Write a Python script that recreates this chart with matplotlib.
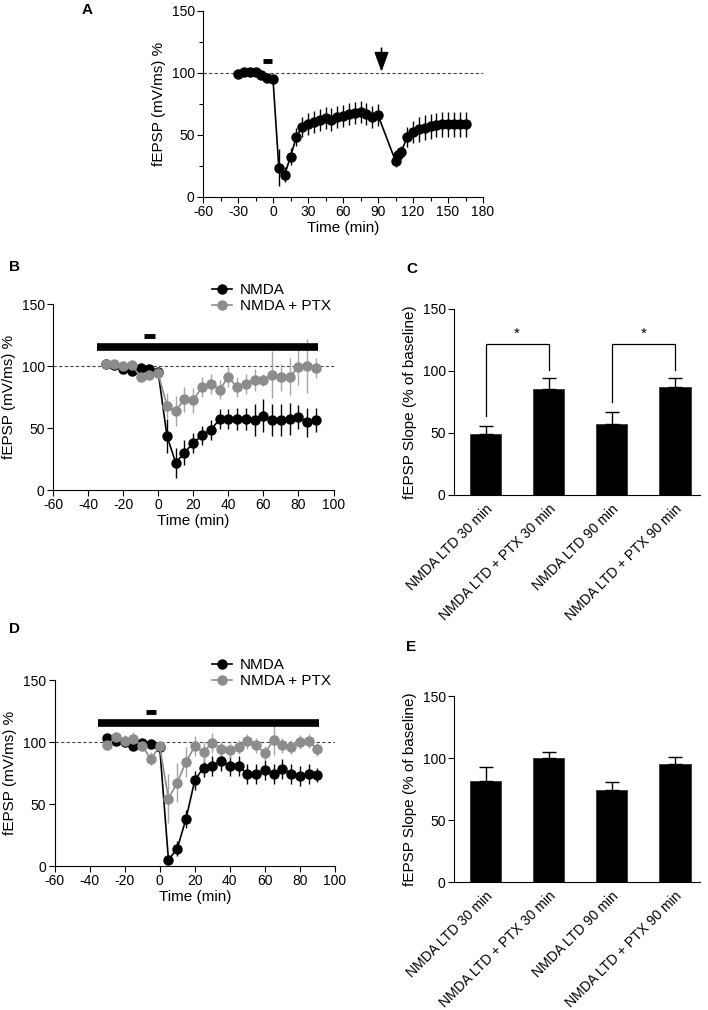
import matplotlib.pyplot as plt
from matplotlib.lines import Line2D
from matplotlib.ticker import MultipleLocator

plt.rcParams['font.family'] = ['Liberation Sans', 'DejaVu Sans']
plt.rcParams['font.size'] = 10
plt.rcParams['axes.unicode_minus'] = False

# ---- panel A data ----
a_time = [-30, -25, -20, -15, -10, -5, 0, 5, 10, 15, 20, 25, 30, 35, 40, 45, 50, 55, 60,
          65, 70, 75, 80, 85, 90, 105, 107.5, 110, 115, 120, 125, 130, 135, 140, 145,
          150, 155, 160, 165]
a_mean = [99.5, 101, 100.5, 100.5, 98, 96, 95, 23.5, 18, 32.5, 48.5, 56.5, 59, 60.5, 62,
          63.5, 62.5, 64.5, 65.5, 67, 67.5, 68.5, 67, 64.5, 66, 29, 34, 36.5, 48.5, 52.5,
          54.5, 56, 57, 58, 58.5, 58.5, 58.5, 58.5, 58.5]
a_sem = [1, 1, 1, 1, 1, 1, 1, 15, 6, 7, 7, 8, 9, 9, 9, 9, 9, 9, 9, 9, 9, 9, 9, 9, 9,
         5, 4, 5, 8, 9, 10, 10, 10, 10, 10, 10, 10, 10, 10]
a_nmda_period = [-9, -1]
a_arrow_time = 93

# ---- panels B and D data ----
t = [-30, -25, -20, -15, -10, -5, 0, 5, 10, 15, 20, 25, 30, 35, 40, 45, 50, 55, 60,
     65, 70, 75, 80, 85, 90]
b_nmda = [101.6, 101, 97.3, 96.3, 98.4, 97.8, 95, 43.5, 22, 30, 38, 44, 48.5, 57, 57,
          57, 57, 56.5, 60, 56.5, 56.5, 57, 59, 54.5, 56.5]
b_nmda_sem = [2, 2, 2, 2, 2, 2, 2, 14, 12, 10, 8, 8, 8, 8, 8, 9, 9, 13, 13, 13, 13, 13,
              9.5, 12, 10]
b_ptx = [102, 102, 100, 101, 91, 92.5, 94, 68, 64, 73, 72.5, 83, 85.5, 81, 91, 83, 85.5,
         88.5, 88.5, 93, 91, 91.5, 99, 100, 98.5]
b_ptx_sem = [2, 2, 2, 2, 3, 3, 3, 10, 12, 10, 10, 8, 8, 8, 8, 8, 8, 9, 5, 19, 11, 15,
             14, 22, 8]

d_nmda = [103.5, 101, 100, 97, 99, 98, 96, 5, 14, 38, 69, 79.4, 80.6, 84.7, 80.6, 80.6,
          74, 74, 77.2, 74, 78.5, 74, 72.6, 74, 73.4]
d_nmda_sem = [2, 2, 2, 2, 2, 2, 2, 3, 6, 7, 8, 8, 8, 8, 8, 8, 8, 8, 8, 8, 8, 8, 8, 8, 6]
d_ptx = [97.3, 104, 100.8, 102.7, 96.5, 86.6, 96.5, 54.4, 67.3, 83.9, 96.5, 91.9, 99.5,
         94.1, 93.3, 96, 100.6, 97.3, 91.1, 101.9, 97.3, 96, 100, 100.8, 94.1]
d_ptx_sem = [3, 3, 5, 5, 4, 5, 3, 20, 16, 12, 8, 8, 8, 6, 6, 6, 6, 6, 6, 12, 6, 6, 6, 6, 5]

ptx_period = [-35, 91]
nmda_period = [-8, -2]

# ---- panels C and E data ----
bar_labels = ["NMDA LTD 30 min", "NMDA LTD + PTX 30 min",
              "NMDA LTD 90 min", "NMDA LTD + PTX 90 min"]
c_mean = [49, 85.7, 57, 87]
c_sem = [7, 8.7, 9.7, 7.5]
e_mean = [81.6, 100.3, 74.3, 95.2]
e_sem = [11.2, 4.6, 6.2, 5.5]

W, H = 708, 1010
fig = plt.figure(figsize=(W / 100, H / 100), dpi=100)
GREY = '#8c8c8c'


def add_ax(l, t_, r, b):
    return fig.add_axes([l / W, 1 - b / H, (r - l) / W, (b - t_) / H])


def style(ax):
    for s in ['top', 'right']:
        ax.spines[s].set_visible(False)
    for s in ['left', 'bottom']:
        ax.spines[s].set_linewidth(0.8)
    ax.tick_params(direction='out', length=4, width=0.8, labelsize=10, pad=2)
    ax.tick_params(which='minor', direction='out', length=3, width=0.8)


def time_course(ax, series):
    for m, s, c, ec in series:
        ax.errorbar(t, m, yerr=s, fmt='-o', color=c, ecolor=ec, ms=6.5, lw=1.2,
                    elinewidth=1.0, capsize=0)
    ax.axhline(100, ls=(0, (3, 2)), lw=0.8, color='#444444', zorder=0)
    ax.plot(ptx_period, [115, 115], color='k', lw=5.5, solid_capstyle='butt')
    ax.plot(nmda_period, [124.5, 124.5], color='k', lw=3.5, solid_capstyle='butt')
    ax.set_xlim(-60, 100)
    ax.set_ylim(0, 150)
    ax.set_xticks(range(-60, 101, 20))
    ax.set_yticks([0, 50, 100, 150])
    ax.set_xlabel('Time (min)', fontsize=11, labelpad=1)
    ax.set_ylabel('fEPSP (mV/ms) %', fontsize=11)
    style(ax)
    handles = [Line2D([], [], color='k', marker='o', ms=6.5, lw=1.2),
               Line2D([], [], color=GREY, marker='o', ms=6.5, lw=1.2)]
    return handles


def bars(ax, mean, sem):
    x = range(len(mean))
    ax.bar(x, mean, width=0.5, color='k', edgecolor='#333333', lw=0.6)
    ax.errorbar(x, mean, yerr=[[0] * len(sem), sem], fmt='none', ecolor='k',
                elinewidth=1.0, capsize=5, capthick=1.0)
    ax.set_xlim(-0.5, 3.4)
    ax.set_ylim(0, 150)
    ax.set_yticks([0, 50, 100, 150])
    ax.set_xticks(list(x))
    ax.set_xticklabels(bar_labels, rotation=45, ha='right', va='top',
                       rotation_mode='anchor', fontsize=10.5)
    ax.set_ylabel('fEPSP Slope (% of baseline)', fontsize=11)
    style(ax)
    ax.tick_params(axis='x', length=0, pad=5)


# ---- A ----
axA = add_ax(203, 11, 483, 197)
axA.errorbar(a_time, a_mean, yerr=a_sem, fmt='-o', color='k', ms=6.5, lw=1.2,
             elinewidth=1.0, capsize=0)
axA.axhline(100, ls=(0, (3, 2)), lw=0.8, color='#444444', zorder=0)
axA.plot(a_nmda_period, [110, 110], color='k', lw=3.5, solid_capstyle='butt')
axA.annotate('', xy=(a_arrow_time, 101), xytext=(a_arrow_time, 120),
             arrowprops=dict(arrowstyle='-|>,head_length=0.6,head_width=0.22',
                             color='k', lw=1.2, mutation_scale=20, shrinkA=0, shrinkB=0))
axA.set_xlim(-60, 180)
axA.set_ylim(0, 150)
axA.set_xticks(range(-60, 181, 30))
axA.xaxis.set_minor_locator(MultipleLocator(15))
axA.set_yticks([0, 50, 100, 150])
axA.yaxis.set_minor_locator(MultipleLocator(25))
axA.set_xlabel('Time (min)', fontsize=11, labelpad=1)
axA.set_ylabel('fEPSP (mV/ms) %', fontsize=11)
style(axA)

# ---- B ----
axB = add_ax(53, 304, 333.5, 490)
h = time_course(axB, [(b_nmda, b_nmda_sem, 'k', 'k'), (b_ptx, b_ptx_sem, GREY, '#a5a5a5')])
axB.legend(h, ['NMDA', 'NMDA + PTX'], loc='center left',
           bbox_to_anchor=(212 / W, 1 - 298 / H), bbox_transform=fig.transFigure,
           frameon=False, fontsize=11, handlelength=1.3, handletextpad=0.5,
           labelspacing=0.15, borderpad=0, borderaxespad=0)

# ---- C ----
axC = add_ax(454, 309, 700, 495)
bars(axC, c_mean, c_sem)
for i0, i1, low in [(0, 1, 64), (2, 3, 75)]:
    axC.plot([i0, i0, i1, i1], [low, 122, 122, 101], color='k', lw=0.9)
    axC.text((i0 + i1) / 2, 124, '*', ha='center', va='bottom', fontsize=11)

# ---- D ----
axD = add_ax(54.5, 680, 335, 866)
h = time_course(axD, [(d_nmda, d_nmda_sem, 'k', 'k'), (d_ptx, d_ptx_sem, GREY, '#a5a5a5')])
axD.legend(h, ['NMDA', 'NMDA + PTX'], loc='center left',
           bbox_to_anchor=(212 / W, 1 - 673 / H), bbox_transform=fig.transFigure,
           frameon=False, fontsize=11, handlelength=1.3, handletextpad=0.5,
           labelspacing=0.15, borderpad=0, borderaxespad=0)

# ---- E ----
axE = add_ax(454, 696, 700, 882)
bars(axE, e_mean, e_sem)

for letter, x, y in [('A', 87, 10), ('B', 14, 267), ('C', 412, 269),
                     ('D', 14, 629), ('E', 411, 647)]:
    fig.text(x / W, 1 - y / H, letter, fontsize=11, fontweight='bold',
             ha='center', va='center')

fig.savefig('out.png', dpi=100)
